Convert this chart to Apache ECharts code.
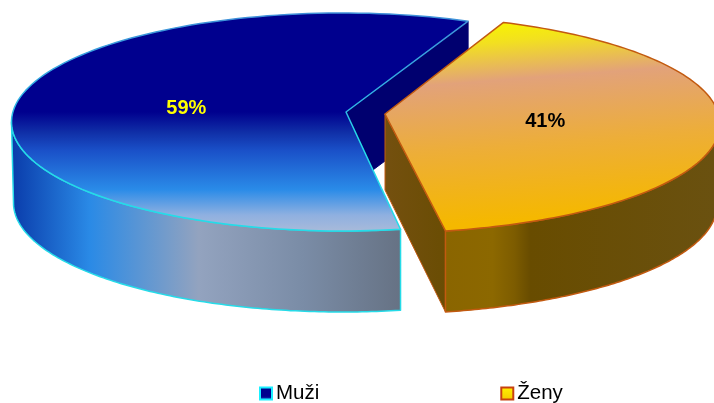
<!DOCTYPE html>
<html>
<head>
<meta charset="utf-8">
<title>Muži / Ženy</title>
<script src="https://cdn.jsdelivr.net/npm/echarts@6/dist/echarts.min.js"></script>
<style>
  html, body { margin: 0; padding: 0; background: #fff; }
  #chart { width: 714px; height: 403px; }
</style>
</head>
<body>
<div id="chart"></div>
<script>
// chart values
var categories = ["Muži", "Ženy"];
var shares = [59, 41];

// geometry of the tilted pie, one entry per slice
var layouts = [
  { cx: 342.5, cy: 122, rx: 331, ry: 109, apexX: 346, apexY: 112, start: 67.7, dir: 1, depth: 81, backDepth: 78, lowerRx: 329, labelR: 0.485, labelY: 2 },
  { cx: 380, cy: 124, rx: 340, ry: 109, apexX: 385, apexY: 114, start: 68.7, dir: -1, depth: 81, backDepth: 76, lowerRx: 337, labelR: 0.473, labelY: 3 }
];

var total = shares[0] + shares[1];

function linear(x, y, x2, y2, stops) {
  return {
    type: "linear", x: x, y: y, x2: x2, y2: y2, global: true,
    colorStops: stops.map(function (s) { return { offset: s[0], color: s[1] }; })
  };
}

var styles = [
  {
    stroke: linear(0, 13, 0, 231, [[0, "#3f8fd8"], [0.45, "#2fb8e6"], [0.55, "#25dbe8"], [1, "#25dbe8"]]),
    labelColor: "#ffff00",
    top: linear(0, 13, 0, 231, [[0, "#00008e"], [0.454, "#00008e"], [0.55, "#1030a8"], [0.63, "#1a50c8"], [0.81, "#2a8be8"], [0.927, "#8fb0e0"], [1, "#a8bada"]]),
    side: linear(12, 0, 401, 0, [[0, "#0a3cab"], [0.2, "#2a8ae6"], [0.48, "#93a3bf"], [0.75, "#7a8ca6"], [1, "#667284"]]),
    wall: "#00006f"
  },
  {
    stroke: "#c25a10",
    labelColor: "#000000",
    top: linear(503, 21, 519, 230, [[0, "#f8f400"], [0.1, "#f2e020"], [0.28, "#e2a27a"], [0.6, "#edae38"], [0.95, "#f5b800"], [1, "#f5b800"]]),
    side: linear(444, 0, 714, 0, [[0, "#8a6500"], [0.18, "#8c6800"], [0.26, "#7d5c00"], [0.32, "#684c00"], [1, "#6a5110"]]),
    wall: linear(385, 0, 444, 0, [[0, "#74500f"], [1, "#6a4d04"]])
  }
];

function arc(l, rx, cy, from, to) {
  var pts = [];
  var steps = 120;
  for (var i = 0; i <= steps; i++) {
    var a = (from + (to - from) * i / steps) * Math.PI / 180;
    pts.push([l.cx + Math.cos(a) * rx, cy - Math.sin(a) * l.ry]);
  }
  return pts;
}

function renderSlice(index) {
  return function (params, api) {
    var l = layouts[index];
    var st = styles[index];
    var sweep = api.value(0) / total * 360;
    var end = l.start + l.dir * sweep;
    var topArc = arc(l, l.rx, l.cy, l.start, end);
    var apex = [l.apexX, l.apexY];
    var apexLow = [l.apexX, l.apexY + l.backDepth];
    var children = [];
    var lineStyle = { stroke: st.stroke, lineWidth: 1.5, lineJoin: "round" };

    // visible outer wall: from the left extreme (or the front cut) to the rim end
    var sideFrom = index === 0 ? 180 : end;
    var sideTo = index === 0 ? end : 0;
    var upper = arc(l, l.rx, l.cy, sideFrom, sideTo);
    var lower = arc(l, l.lowerRx, l.cy + l.depth, sideTo, sideFrom);
    if (index === 0) {
      lower[0][0] = upper[upper.length - 1][0];
    } else {
      lower[lower.length - 1][0] = upper[0][0];
    }

    // flat cut wall seen inside the pie
    var wallEdge = index === 0 ? topArc[0] : topArc[topArc.length - 1];
    var wallLowY = index === 0 ? l.backDepth : l.depth;
    var wall = [apex, wallEdge, [wallEdge[0], wallEdge[1] + wallLowY], apexLow];
    children.push({
      type: "polygon",
      shape: { points: wall },
      style: { fill: st.wall, stroke: index === 0 ? "#00006f" : st.stroke, lineWidth: 1 }
    });
    children.push({
      type: "polygon",
      shape: { points: upper.concat(lower) },
      style: Object.assign({ fill: st.side }, lineStyle)
    });
    children.push({
      type: "polygon",
      shape: { points: [apex].concat(topArc) },
      style: Object.assign({ fill: st.top }, lineStyle)
    });

    // percent label sits half way along the slice's mid angle
    var mid = (l.start + end) / 2 * Math.PI / 180;
    children.push({
      type: "text",
      style: {
        x: l.apexX + Math.cos(mid) * l.rx * l.labelR,
        y: l.apexY + l.labelY - Math.sin(mid) * l.ry * l.labelR,
        text: api.value(0) + "%",
        fill: st.labelColor,
        font: "bold 20px 'Liberation Sans', Arial, sans-serif",
        align: "center",
        verticalAlign: "middle"
      }
    });
    return { type: "group", children: children };
  };
}

var chart = echarts.init(document.getElementById("chart"), null, { renderer: "canvas" });

chart.setOption({
  animation: false,
  backgroundColor: "#ffffff",
  legend: {
    left: 259,
    top: 383,
    padding: 0,
    itemGap: 181,
    itemWidth: 12,
    itemHeight: 12,
    selectedMode: false,
    icon: "rect",
    textStyle: {
      fontFamily: "'Liberation Sans', Arial, sans-serif",
      fontSize: 20.5,
      color: "#000000",
      padding: [0, 0, 0, -1]
    },
    data: [
      {
        name: categories[0],
        itemStyle: {
          color: { type: "linear", x: 0, y: 0, x2: 0, y2: 1, colorStops: [{ offset: 0, color: "#00008e" }, { offset: 0.7, color: "#00008e" }, { offset: 1, color: "#1a50c8" }] },
          borderColor: "#19f0ff",
          borderWidth: 2
        }
      },
      {
        name: categories[1],
        itemStyle: {
          color: { type: "linear", x: 0, y: 0, x2: 0, y2: 1, colorStops: [{ offset: 0, color: "#fff400" }, { offset: 1, color: "#f5c800" }] },
          borderColor: "#c8400f",
          borderWidth: 2
        }
      }
    ]
  },
  series: categories.map(function (name, i) {
    return {
      type: "custom",
      name: name,
      coordinateSystem: "none",
      silent: true,
      data: [[shares[i]]],
      renderItem: renderSlice(i)
    };
  })
});
</script>
</body>
</html>
